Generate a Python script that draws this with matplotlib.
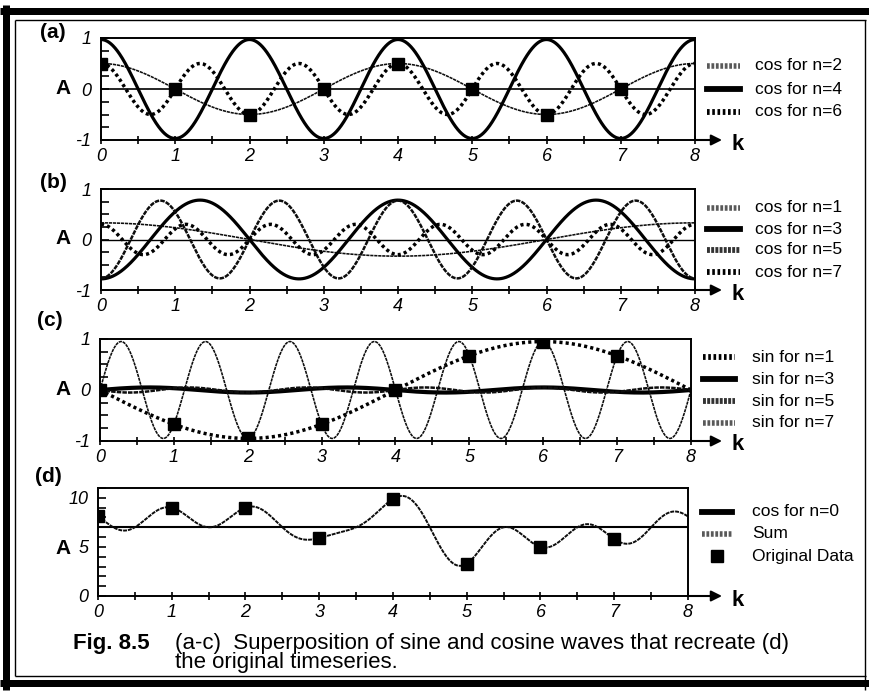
import numpy as np
import matplotlib
matplotlib.use("Agg")
import matplotlib.pyplot as plt
from matplotlib.lines import Line2D

plt.rcParams['font.family'] = ['Liberation Sans', 'DejaVu Sans']

# ---------------- data ----------------
k_points = [0, 1, 2, 3, 4, 5, 6, 7]
N_PERIOD = 8

# (a) cosine components
a_n = [2, 4, 6]
a_amp = [0.5, 0.97, 0.5]
a_labels = ["cos for n=2", "cos for n=4", "cos for n=6"]

# (b) cosine components
b_n = [1, 3, 5, 7]
b_amp = [0.33, -0.78, -0.77, 0.30]
b_labels = ["cos for n=1", "cos for n=3", "cos for n=5", "cos for n=7"]

# (c) sine components
c_n = [1, 3, 5, 7]
c_amp = [-0.95, 0.05, -0.05, 0.95]
c_labels = ["sin for n=1", "sin for n=3", "sin for n=5", "sin for n=7"]

# (d) mean level and original data
cos0_level = 7.0
orig_data = [8.1, 9.0, 9.0, 5.9, 9.9, 3.3, 5.0, 5.8]
d_labels = ["cos for n=0", "Sum", "Original Data"]

x_ticklabels = ["0", "1", "2", "3", "4", "5", "6", "7", "8"]

# ---------------- styles ----------------
thin_tex = dict(color='0.05', lw=1.15, ls=(0, (2.0, 0.5)))
thick_solid = dict(color='k', lw=2.3, ls='-')
thick_dot = dict(color='k', lw=2.5, ls=(0, (0.9, 0.9)))
med_tex = dict(color='0.05', lw=1.8, ls=(0, (1.8, 0.45)))

leg_thin = dict(color='0.35', lw=4, ls=(0, (0.5, 0.3)))
leg_solid = dict(color='k', lw=4.2, ls='-')
leg_dot = dict(color='k', lw=4.2, ls=(0, (0.45, 0.45)))
leg_med = dict(color='0.2', lw=4.2, ls=(0, (0.5, 0.22)))

W, H = 870, 695
fig = plt.figure(figsize=(W / 100, H / 100), dpi=100)


def fx(px):
    return px / W


def fy(py):
    return 1 - py / H


def make_axes(l, r, t, b):
    return fig.add_axes([fx(l), fy(b), (r - l) / W, (b - t) / H])


kk = np.linspace(0, 8, 1601)


def style_axes(ax, l, r, b, ylim, yticks, yminor):
    ax.set_xlim(0, 8)
    ax.set_ylim(*ylim)
    ax.set_xticks(range(9))
    ax.set_xticklabels(x_ticklabels)
    ax.set_xticks(np.arange(0, 8.01, 0.5), minor=True)
    ax.set_yticks(yticks)
    ax.set_yticklabels([str(v) for v in yticks])
    ax.set_yticks(yminor, minor=True)
    ax.tick_params(axis='x', which='both', direction='inout', length=6,
                   width=1.2, pad=3, labelsize=13)
    ax.tick_params(axis='y', which='both', direction='in', length=6,
                   width=1.2, pad=7, labelsize=13)
    for lab in ax.get_xticklabels() + ax.get_yticklabels():
        lab.set_fontstyle('italic')
    for s in ax.spines.values():
        s.set_linewidth(1.4)
    tip = (722 - l) / (r - l)
    ax.annotate('', xy=(tip, 0), xytext=(1.0, 0), xycoords='axes fraction',
                textcoords='axes fraction', annotation_clip=False,
                arrowprops=dict(arrowstyle='-|>', lw=1.5, color='k',
                                mutation_scale=16, shrinkA=0, shrinkB=0))
    fig.text(fx(738), fy(b + 4), 'k', fontsize=16, fontweight='bold',
             ha='center', va='center')


def legend_rows(x0, x1, xt, rows, styles, labels, marker_row=None):
    for i, (y, st, lab) in enumerate(zip(rows, styles, labels)):
        if marker_row is not None and i == marker_row:
            fig.add_artist(Line2D([fx((x0 + x1) / 2)], [fy(y)], marker='s',
                                  ms=8, color='k', ls='none'))
        else:
            fig.add_artist(Line2D([fx(x0), fx(x1)], [fy(y), fy(y)], **st))
        fig.text(fx(xt), fy(y), lab, fontsize=12.5, ha='left', va='center')


def panel_labels(letter, ylab_x, ylab_y, tag_x, tag_y):
    fig.text(fx(tag_x), fy(tag_y), f'({letter})', fontsize=15,
             fontweight='bold', ha='left', va='center')
    fig.text(fx(ylab_x), fy(ylab_y), 'A', fontsize=15, fontweight='bold',
             ha='center', va='center')


# ---------------- panel (a) ----------------
la, ra, ta, ba = 101, 695, 38, 140
ax = make_axes(la, ra, ta, ba)
ax.axhline(0, color='k', lw=1.2)
styles_a = [thin_tex, thick_solid, thick_dot]
for n, amp, st in zip(a_n, a_amp, styles_a):
    ax.plot(kk, amp * np.cos(2 * np.pi * n * kk / N_PERIOD), **st)
kp = np.array(k_points)
ax.plot(kp, a_amp[0] * np.cos(2 * np.pi * a_n[0] * kp / N_PERIOD), 's',
        color='k', ms=8)
style_axes(ax, la, ra, ba, (-1, 1), [-1, 0, 1], np.arange(-1, 1.01, 0.25))
panel_labels('a', 63, 89, 40, 32)
legend_rows(707, 740, 755, [66, 89, 112], [leg_thin, leg_solid, leg_dot],
            a_labels)

# ---------------- panel (b) ----------------
lb, rb, tb, bb = 101, 695, 189, 290
ax = make_axes(lb, rb, tb, bb)
ax.axhline(0, color='k', lw=1.0)
styles_b = [thin_tex, thick_solid, med_tex, thick_dot]
for n, amp, st in zip(b_n, b_amp, styles_b):
    ax.plot(kk, amp * np.cos(2 * np.pi * n * kk / N_PERIOD), **st)
style_axes(ax, lb, rb, bb, (-1, 1), [-1, 0, 1], np.arange(-1, 1.01, 0.25))
panel_labels('b', 63, 239, 40, 182)
legend_rows(707, 740, 755, [208, 229, 250, 272],
            [leg_thin, leg_solid, leg_med, leg_dot], b_labels)

# ---------------- panel (c) ----------------
lc, rc, tc, bc = 100, 691, 339, 441
ax = make_axes(lc, rc, tc, bc)
styles_c = [thick_dot, dict(color='k', lw=3.0, ls='-'), med_tex, thin_tex]
for n, amp, st in zip(c_n, c_amp, styles_c):
    ax.plot(kk, amp * np.sin(2 * np.pi * n * kk / N_PERIOD), **st)
ax.plot(kp, c_amp[0] * np.sin(2 * np.pi * c_n[0] * kp / N_PERIOD), 's',
        color='k', ms=8)
style_axes(ax, lc, rc, bc, (-1, 1), [-1, 0, 1], np.arange(-1, 1.01, 0.25))
panel_labels('c', 63, 389, 37, 320)
legend_rows(703, 735, 752, [357, 379, 401, 423],
            [leg_dot, leg_solid, leg_med, leg_thin], c_labels)

# ---------------- panel (d) ----------------
ld, rd, td, bd = 98, 688, 488, 596
ax = make_axes(ld, rd, td, bd)
ax.axhline(cos0_level, color='k', lw=1.5)
data = np.array(orig_data)
coef = np.fft.fft(data) / N_PERIOD
sum_curve = np.real(sum(coef[n] * np.exp(2j * np.pi * n * kk / N_PERIOD)
                        for n in range(N_PERIOD)))
ax.plot(kk, sum_curve, color='0.05', lw=1.4, ls=(0, (2.0, 0.5)))
ax.plot(k_points, orig_data, 's', color='k', ms=8)
style_axes(ax, ld, rd, bd, (0, 11), [0, 5, 10], np.arange(0, 11.01, 1))
panel_labels('d', 63, 549, 35, 477)
legend_rows(702, 732, 752, [512, 534, 556], [leg_solid, leg_thin, None],
            d_labels, marker_row=2)

# ---------------- caption ----------------
fig.text(fx(73), fy(643), 'Fig. 8.5', fontsize=16, fontweight='bold',
         ha='left', va='center')
fig.text(fx(175), fy(653),
         '(a-c)  Superposition of sine and cosine waves that recreate (d)\n'
         'the original timeseries.', fontsize=16, ha='left', va='center',
         linespacing=0.92)

# ---------------- frame ----------------
frame = [
    ([0, W], [11, 11], 7),      # top thick
    ([15, 866], [20, 20], 1.4),  # top thin
    ([6, 6], [5, 690], 7),      # left thick
    ([15, 15], [20, 676], 1.4),  # left thin
    ([0, W], [683, 683], 7),    # bottom thick
    ([15, 866], [676, 676], 1.4),  # bottom thin
    ([865, 865], [20, 690], 1.4),  # right thin
]
for xs, ys, lw in frame:
    fig.add_artist(Line2D([fx(x) for x in xs], [fy(y) for y in ys],
                          color='k', lw=lw * 0.72, solid_capstyle='butt'))

fig.savefig('out.png', dpi=100, facecolor='white')
